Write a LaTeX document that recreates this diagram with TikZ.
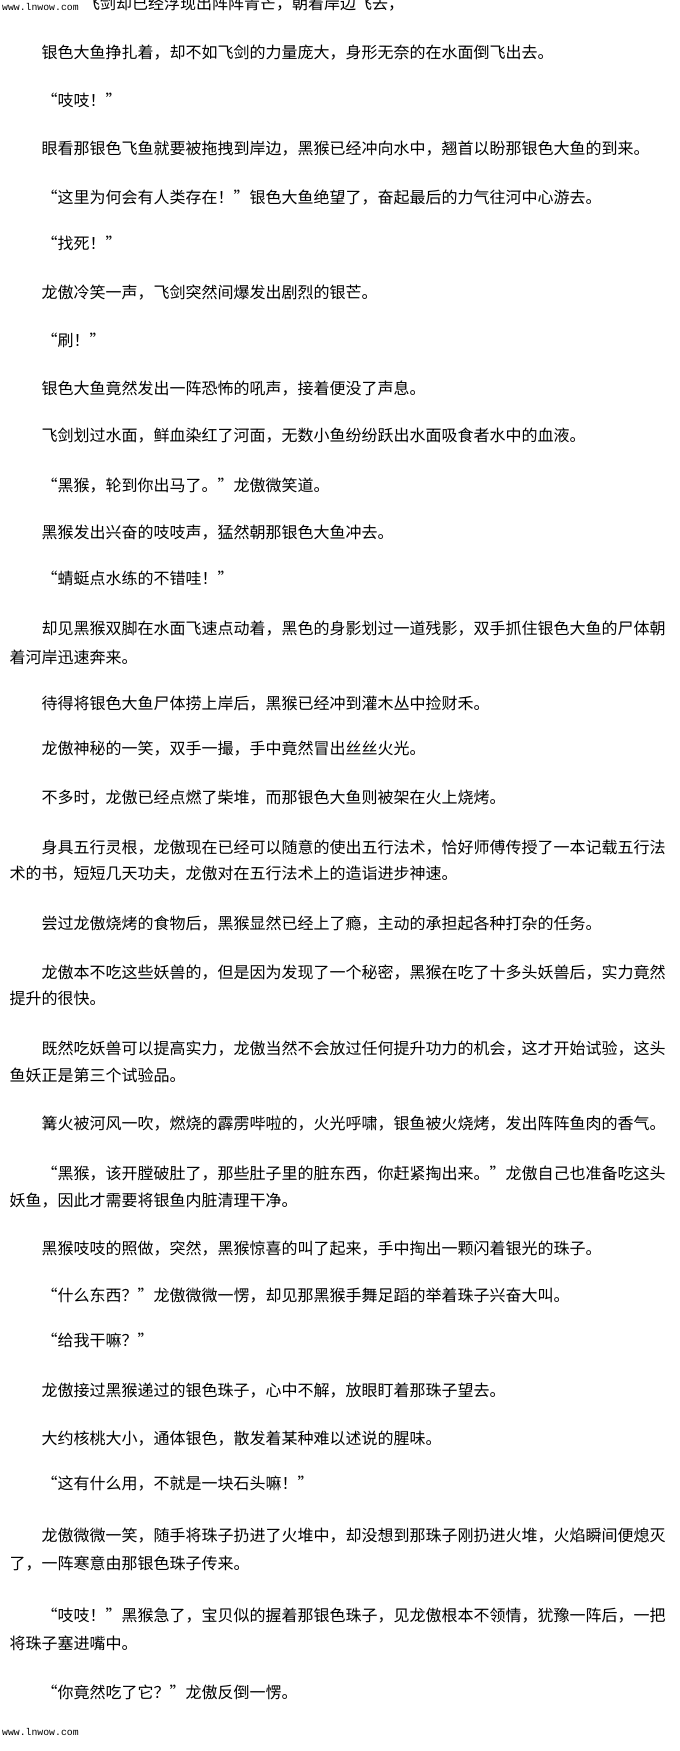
\documentclass[tikz,border=0pt]{standalone}
\usepackage{fontspec}
\usepackage{tikz}
\usepackage{xcolor}
\newfontfamily\cjk[CharacterWidth=Full]{Noto Sans CJK SC}
\newfontfamily\wmark{Liberation Mono}
\newcommand{\txtline}[4]{ % name, left, text centre from top, text
  \node[anchor=base west, inner sep=0pt,
        font=\cjk\fontsize{16}{16}\selectfont] (#1) at (#2, -#3-6) {#4};
}
\newcommand{\siteline}[3]{ % name, left, centre from top
  \node[anchor=base west, inner sep=0pt,
        font=\wmark\fontsize{9.8}{10}\selectfont] (#1) at (#2, -#3-3) {www.lnwow.com};
}

\begin{document}
\begin{tikzpicture}[x=1pt, y=1pt]
\clip (0,0) rectangle (680,-1751);
\fill[white] (0,0) rectangle (680,-1751);

\siteline{sitetop}{2}{7}
\txtline{l1}{84}{3}{飞剑却已经浮现出阵阵青芒，朝着岸边飞去，}
\txtline{l2}{41.5}{52}{银色大鱼挣扎着，却不如飞剑的力量庞大，身形无奈的在水面倒飞出去。}
\txtline{l3}{41.5}{100}{“吱吱！”}
\txtline{l4}{41.5}{148}{眼看那银色飞鱼就要被拖拽到岸边，黑猴已经冲向水中，翘首以盼那银色大鱼的到来。}
\txtline{l5}{41.5}{197}{“这里为何会有人类存在！”银色大鱼绝望了，奋起最后的力气往河中心游去。}
\txtline{l6}{41.5}{243}{“找死！”}
\txtline{l7}{41.5}{292}{龙傲冷笑一声，飞剑突然间爆发出剧烈的银芒。}
\txtline{l8}{41.5}{340}{“刷！”}
\txtline{l9}{41.5}{388}{银色大鱼竟然发出一阵恐怖的吼声，接着便没了声息。}
\txtline{l10}{41.5}{435}{飞剑划过水面，鲜血染红了河面，无数小鱼纷纷跃出水面吸食者水中的血液。}
\txtline{l11}{41.5}{485}{“黑猴，轮到你出马了。”龙傲微笑道。}
\txtline{l12}{41.5}{532}{黑猴发出兴奋的吱吱声，猛然朝那银色大鱼冲去。}
\txtline{l13}{41.5}{578}{“蜻蜓点水练的不错哇！”}
\txtline{l14}{41.5}{628}{却见黑猴双脚在水面飞速点动着，黑色的身影划过一道残影，双手抓住银色大鱼的尸体朝}
\txtline{l15}{9.5}{657}{着河岸迅速奔来。}
\txtline{l16}{41.5}{703}{待得将银色大鱼尸体捞上岸后，黑猴已经冲到灌木丛中捡财禾。}
\txtline{l17}{41.5}{748}{龙傲神秘的一笑，双手一撮，手中竟然冒出丝丝火光。}
\txtline{l18}{41.5}{797}{不多时，龙傲已经点燃了柴堆，而那银色大鱼则被架在火上烧烤。}
\txtline{l19}{41.5}{847}{身具五行灵根，龙傲现在已经可以随意的使出五行法术，恰好师傅传授了一本记载五行法}
\txtline{l20}{9.5}{873}{术的书，短短几天功夫，龙傲对在五行法术上的造诣进步神速。}
\txtline{l21}{41.5}{923}{尝过龙傲烧烤的食物后，黑猴显然已经上了瘾，主动的承担起各种打杂的任务。}
\txtline{l22}{41.5}{972}{龙傲本不吃这些妖兽的，但是因为发现了一个秘密，黑猴在吃了十多头妖兽后，实力竟然}
\txtline{l23}{9.5}{998}{提升的很快。}
\txtline{l24}{41.5}{1048}{既然吃妖兽可以提高实力，龙傲当然不会放过任何提升功力的机会，这才开始试验，这头}
\txtline{l25}{9.5}{1075}{鱼妖正是第三个试验品。}
\txtline{l26}{41.5}{1123}{篝火被河风一吹，燃烧的霹雳哔啦的，火光呼啸，银鱼被火烧烤，发出阵阵鱼肉的香气。}
\txtline{l27}{41.5}{1173}{“黑猴，该开膛破肚了，那些肚子里的脏东西，你赶紧掏出来。”龙傲自己也准备吃这头}
\txtline{l28}{9.5}{1200}{妖鱼，因此才需要将银鱼内脏清理干净。}
\txtline{l29}{41.5}{1248}{黑猴吱吱的照做，突然，黑猴惊喜的叫了起来，手中掏出一颗闪着银光的珠子。}
\txtline{l30}{41.5}{1295}{“什么东西？”龙傲微微一愣，却见那黑猴手舞足蹈的举着珠子兴奋大叫。}
\txtline{l31}{41.5}{1340}{“给我干嘛？”}
\txtline{l32}{41.5}{1390}{龙傲接过黑猴递过的银色珠子，心中不解，放眼盯着那珠子望去。}
\txtline{l33}{41.5}{1438}{大约核桃大小，通体银色，散发着某种难以述说的腥味。}
\txtline{l34}{41.5}{1483}{“这有什么用，不就是一块石头嘛！”}
\txtline{l35}{41.5}{1535}{龙傲微微一笑，随手将珠子扔进了火堆中，却没想到那珠子刚扔进火堆，火焰瞬间便熄灭}
\txtline{l36}{9.5}{1563}{了，一阵寒意由那银色珠子传来。}
\txtline{l37}{41.5}{1615}{“吱吱！”黑猴急了，宝贝似的握着那银色珠子，见龙傲根本不领情，犹豫一阵后，一把}
\txtline{l38}{9.5}{1643}{将珠子塞进嘴中。}
\txtline{l39}{41.5}{1692}{“你竟然吃了它？”龙傲反倒一愣。}
\siteline{sitebot}{2}{1732}

\end{tikzpicture}
\end{document}
